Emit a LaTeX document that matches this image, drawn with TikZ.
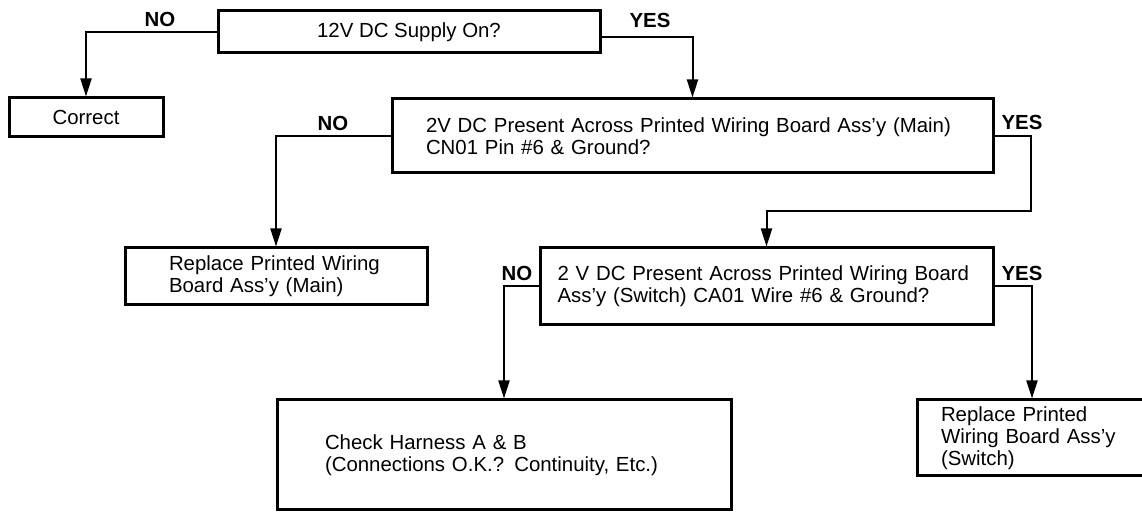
\documentclass[tikz,border=0pt]{standalone}
\usepackage{fontspec}
\setmainfont{Liberation Sans}
\usepackage{tikz}
\usetikzlibrary{arrows.meta}

\tikzset{
  box/.style={draw, line width=1.5pt, inner sep=0pt, font=\fontsize{10.2}{11}\selectfont},
  conn/.style={line width=1pt, -{Triangle[length=9pt,width=5.5pt]}},
  ans/.style={font=\fontsize{10.2}{11}\selectfont\bfseries}
}

\begin{document}
\begin{tikzpicture}[x=0.5pt, y=-0.5pt]
        \useasboundingbox (0,0) rectangle (1142,512);
        % Fragen
        \node [box, minimum width=191pt, minimum height=21pt] (q1) at (409,32) {12V DC Supply On?};
        \node [box, minimum width=300.5pt, minimum height=37pt, align=left, text width=266.5pt] (q2) at (692.5,136)
              {2V DC Present Across Printed Wiring Board Ass’y (Main)\\CN01 Pin \#6 \& Ground?};
        \node [box, minimum width=226.5pt, minimum height=38.5pt, align=left, text width=209pt] (q3) at (766.5,286.5)
              {2 V DC Present Across Printed Wiring Board\\Ass’y (Switch) CA01 Wire \#6 \& Ground?};
        % Massnahmen
        \node [box, minimum width=77pt, minimum height=19.5pt] (correct) at (86,117.5) {Correct};
        \node [box, minimum width=151pt, minimum height=28.5pt, align=left, text width=107pt] (repmain) at (276,276.5)
              {Replace Printed Wiring\\Board Ass’y (Main)};
        \node [box, minimum width=227pt, minimum height=55pt, align=left, text width=179pt] (harness) at (504,455)
              {Check Harness A \& B\\(Connections O.K.? Continuity, Etc.)};
        \node [box, minimum width=115pt, minimum height=38pt, align=left, text width=91pt] (repsw) at (1032,438)
              {Replace Printed\\Wiring Board Ass’y\\(Switch)};
        % Antworten
        \node [ans] (no1) at (160,19) {NO};
        \node [ans] (yes1) at (650,20) {YES};
        \node [ans] (no2) at (333,123) {NO};
        \node [ans] (yes2) at (1022,122) {YES};
        \node [ans] (no3) at (517,273) {NO};
        \node [ans] (yes3) at (1022,273) {YES};
        % Verbindungen
        \coordinate (j2) at (1031,211);
        \draw [conn] (q1.west) -| (correct.north);
        \draw [conn] ([yshift=-2.5pt]q1.east) -| (q2.north);
        \draw [conn] (q2.west) -| (repmain.north);
        \draw [conn] (q2.east) -| (j2) -| (q3.north);
        \draw [conn] (q3.west) -| (harness.north);
        \draw [conn] (q3.east) -| (repsw.north);
    \end{tikzpicture}
\end{document}
